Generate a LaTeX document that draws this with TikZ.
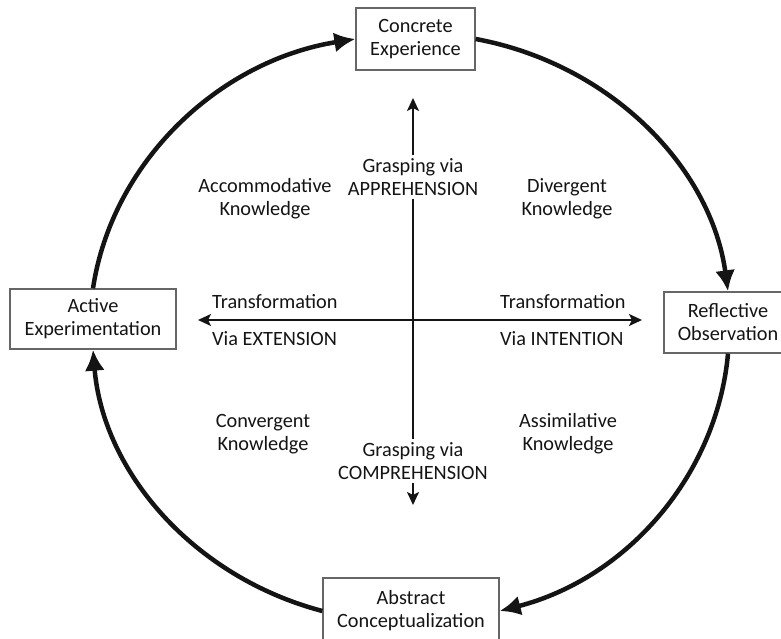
\documentclass[tikz,border=0pt]{standalone}
\usepackage{fontspec}
\setmainfont{Carlito}
\usetikzlibrary{arrows.meta}
\begin{document}
\begin{tikzpicture}[x=1pt,y=-1pt,
  every node/.style={font=\fontsize{20.3}{23}\selectfont, text=black!92},
  stage/.style={draw=black!60, line width=1.3pt, fill=white, align=center, inner sep=0pt},
  lbl/.style={align=center, inner sep=3pt},
  cycarrow/.style={line width=4.5pt, black!92, -{Latex[length=21pt,width=20pt]}},
  axisarrow/.style={line width=2pt, black!92, -{Stealth[length=13pt,width=12pt,inset=3pt]}},
  axisline/.style={line width=2pt, black!92}]
\useasboundingbox (0,0) rectangle (781,639);
% stage boxes
\node[stage, minimum width=119pt, minimum height=62pt] (ce) at (415.5,39) {Concrete\\Experience};
\node[stage, minimum width=166pt, minimum height=60pt] (ae) at (93,319) {Active\\Experimentation};
\node[stage, minimum width=128pt, minimum height=61pt] (ro) at (728,322.5) {Reflective\\Observation};
\node[stage, minimum width=176pt, minimum height=66pt] (ac) at (411,611) {Abstract\\Conceptualization};
% cycle
\draw[cycarrow] (ae.north) .. controls +(19,-126) and +(-137,22) .. (ce.west);
\draw[cycarrow] (ce.east) .. controls +(135,25) and +(-17,-124) .. (ro.north);
\draw[cycarrow] (ro.south) .. controls +(-11,121) and +(128,-33) .. (ac.east);
\draw[cycarrow] (ac.west) .. controls +(-129,-34) and +(10,122) .. (ae.south);
% axis labels
\node[lbl] (gtop) at (413,177) {Grasping via\\APPREHENSION};
\node[lbl] (gbot) at (413,461) {Grasping via\\COMPREHENSION};
\coordinate (uptip) at (413,98);
\coordinate (downtip) at (413,505);
\coordinate (lefttip) at (198,320);
\coordinate (righttip) at (642,320);
\draw[axisarrow] (gtop.north) -- (uptip);
\draw[axisline] (gtop.south) -- (gbot.north);
\draw[axisarrow] (gbot.south) -- (downtip);
\draw[axisarrow] (413,320) -- (lefttip);
\draw[axisarrow] (413,320) -- (righttip);
% transformation labels
\node[lbl, anchor=west] (tl1) at (209,302) {Transformation};
\node[lbl, anchor=west] (tl2) at (209,339) {Via EXTENSION};
\node[lbl, anchor=west] (tr1) at (497,302) {Transformation};
\node[lbl, anchor=west] (tr2) at (497,339) {Via INTENTION};
% knowledge labels
\node[lbl] (acc) at (265,199) {Accommodative\\Knowledge};
\node[lbl] (div) at (567,199) {Divergent\\Knowledge};
\node[lbl] (con) at (263,434) {Convergent\\Knowledge};
\node[lbl] (ass) at (568,434) {Assimilative\\Knowledge};
\end{tikzpicture}
\end{document}
